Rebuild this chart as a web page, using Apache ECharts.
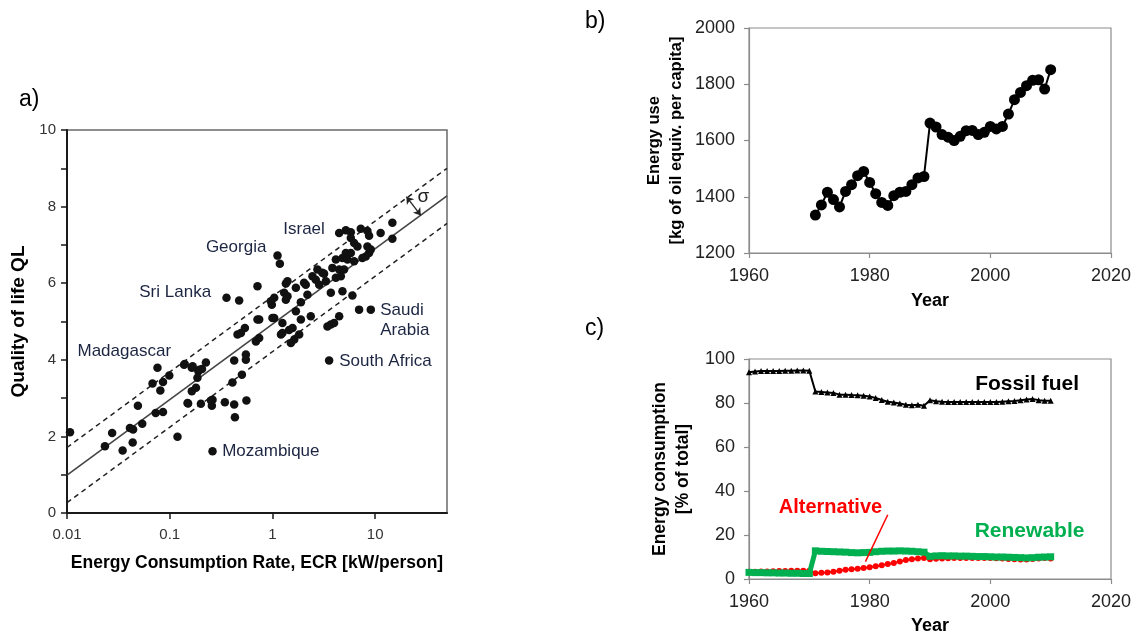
<!DOCTYPE html>
<html><head><meta charset="utf-8">
<script src="https://cdn.jsdelivr.net/npm/echarts@6/dist/echarts.min.js"></script>
<style>html,body{margin:0;padding:0;background:#fff}#c{width:1140px;height:637px}</style>
</head><body><div id="c"></div>
<script>
const FONT = '"Liberation Sans", Arial, Helvetica, sans-serif';

// ---------- Panel a: Quality of life vs energy consumption rate ----------
const ecr = [0.0107,0.0234,0.0275,0.0348,0.041,0.044,0.0436,0.054,0.049,0.073,0.086,0.068,0.076,0.086,0.081,0.099,0.119,0.14,0.164,0.19,0.206,0.225,0.164,0.18,0.151,0.201,0.261,0.257,0.344,0.424,0.431,0.558,0.261,0.408,0.424,0.504,0.551,0.551,0.457,0.493,0.539,0.69,0.715,0.357,0.474,0.186,0.194,0.167,0.138,0.149,0.252,
1.12,1.18,0.715,1.35,1.04,1.35,0.986,0.743,1.04,1.25,1.69,1.45,1.21,1.63,0.743,0.964,1.3,1.82,1.0,
4.46,5.18,5.79,7.24,8.4,8.72,11.3,14.7,14.7,5.79,6.24,6.72,5.18,5.79,8.4,8.72,9.06,8.1,4.14,4.8,5.37,6.24,7.5,3.83,4.46,4.98,2.74,3.06,2.45,2.64,4.14,4.63,2.85,3.31,2.03,1.69,2.19,3.7,4.8,6.0,1.4,1.4,6.97,9.06,4.46,3.7,3.98,2.36,1.89,1.57,1.25,3.43,3.56,1.51,3.18,2.11,1.89];
const ql = [2.11,1.74,2.09,1.63,2.22,2.18,1.84,2.33,2.80,2.61,2.64,3.38,3.79,3.42,3.20,3.59,1.99,3.89,3.79,3.70,3.76,3.93,3.18,3.27,2.86,2.85,2.96,2.80,2.89,2.83,2.50,2.94,1.61,3.41,3.98,3.61,4.14,4.0,4.66,4.70,4.83,4.48,5.05,5.62,5.55,3.53,3.74,3.83,3.87,2.87,2.94,
6.72,6.51,5.92,5.99,5.62,5.57,5.44,5.05,5.09,4.96,5.27,4.78,4.66,4.53,4.57,5.53,5.75,4.66,5.09,
7.31,7.38,7.33,7.42,7.36,7.24,7.31,7.58,7.16,7.18,7.05,6.96,6.79,6.79,6.96,6.79,6.88,6.70,6.62,6.66,6.62,6.57,6.66,6.40,6.36,6.36,6.36,6.27,6.18,6.09,6.14,6.18,5.96,6.05,6.01,5.88,5.70,5.75,5.79,5.68,5.66,6.05,5.31,5.31,5.14,4.92,4.96,5.14,5.05,4.83,4.70,4.87,3.98,4.44,6.25,5.96,5.50];
const fitECR = [0.01, 50];
const fitQL = [0.99, 8.28];
const upperQL = [1.71, 9.00];
const lowerQL = [0.27, 7.56];
const sigmaECR = [20.1, 27.8];
const sigmaQL = [8.26, 7.77];
const sigmaText = ['σ'];
const sigmaTextPos = [29.5, 8.25];
const countryNames = ['Israel','Georgia','Sri Lanka','Madagascar','Saudi\nArabia','South Africa','Mozambique'];
const countryLabelECR = [2.03, 0.443, 0.113, 0.0361, 11.2, 4.46, 0.324];
const countryLabelQL = [7.40, 6.93, 5.76, 4.22, 5.02, 3.95, 1.60];
const countryLabelAlign = ['center','center','center','center','left','left','left'];
const xTickValuesA = [0.01, 0.1, 1, 10];
const xTickLabelsA = ['0.01', '0.1', '1', '10'];

// ---------- Panel b: Energy use per capita ----------
const yearsB = [1971,1972,1973,1974,1975,1976,1977,1978,1979,1980,1981,1982,1983,1984,1985,1986,1987,1988,1989,1990,1991,1992,1993,1994,1995,1996,1997,1998,1999,2000,2001,2002,2003,2004,2005,2006,2007,2008,2009,2010];
const energyUse = [1335,1371,1416,1390,1364,1419,1443,1475,1490,1451,1411,1380,1369,1404,1416,1419,1443,1467,1472,1662,1648,1621,1612,1600,1615,1635,1636,1621,1629,1650,1641,1650,1694,1745,1771,1795,1814,1816,1783,1852];

// ---------- Panel c: Energy consumption shares ----------
const yearsC = [1960,1961,1962,1963,1964,1965,1966,1967,1968,1969,1970,1971,1972,1973,1974,1975,1976,1977,1978,1979,1980,1981,1982,1983,1984,1985,1986,1987,1988,1989,1990,1991,1992,1993,1994,1995,1996,1997,1998,1999,2000,2001,2002,2003,2004,2005,2006,2007,2008,2009,2010];
const fossil = [94.0,94.3,94.5,94.6,94.6,94.6,94.7,94.7,94.8,94.8,94.7,85.2,85.0,84.8,84.6,83.8,83.8,83.6,83.5,83.3,83.0,82.3,81.4,80.6,80.2,79.8,79.2,79.0,79.2,78.8,81.2,80.8,80.6,80.5,80.5,80.5,80.4,80.5,80.5,80.5,80.5,80.4,80.6,80.8,80.9,81.2,81.6,81.8,81.3,81.0,81.0];
const alternative = [3.3,3.3,3.4,3.4,3.5,3.6,3.6,3.7,3.7,3.8,3.8,2.6,2.8,3.0,3.3,3.8,4.2,4.4,4.7,5.0,5.3,5.8,6.3,6.8,7.3,8.0,8.6,9.0,9.3,9.6,9.0,9.2,9.3,9.4,9.5,9.5,9.6,9.6,9.6,9.6,9.5,9.4,9.3,9.1,9.0,8.9,8.9,9.1,9.3,9.5,9.3];
const renewable = [3.0,2.9,2.9,2.8,2.8,2.7,2.7,2.6,2.6,2.5,2.5,12.8,12.6,12.5,12.4,12.3,12.2,12.0,11.9,12.0,12.1,12.4,12.6,12.7,12.7,12.8,12.7,12.6,12.4,12.2,10.3,10.5,10.6,10.5,10.5,10.4,10.4,10.3,10.2,10.2,10.1,10.0,10.0,9.9,9.8,9.7,9.6,9.7,9.9,10.0,10.1];
const seriesLabelsC = ['Fossil fuel','Alternative','Renewable'];
const seriesLabelYearC = [2006.1, 1973.5, 2006.5];
const seriesLabelValC = [88.7, 32.4, 21.5];
const seriesLabelColorC = ['#000000','#ff0000','#00b050'];
const seriesLabelSizeC = [21, 20, 21];
const pointerYears = [1979.3, 1983.0];
const pointerVals = [7.9, 29.2];

const zip = (a, b) => a.map((v, i) => [v, b[i]]);

const chart = echarts.init(document.getElementById('c'), null, {renderer: 'canvas'});

const nameStyle = {fontFamily: FONT, fontWeight: 'bold', fontSize: 17, color: '#000'};
const greyAxis = {
  axisLine: {show: true, lineStyle: {color: '#8c8c8c', width: 1.2}},
  axisTick: {show: true, inside: false, length: 5, lineStyle: {color: '#8c8c8c', width: 1.2}},
  axisLabel: {fontFamily: FONT, fontSize: 18, color: '#222', margin: 14, formatter: v => String(v)},
  splitLine: {show: false}
};

const option = {
  backgroundColor: '#ffffff',
  animation: false,
  textStyle: {fontFamily: FONT},
  title: [
    {text: 'a)', left: 14, top: 83, textStyle: {fontFamily: FONT, fontSize: 23, fontWeight: 'normal', color: '#000'}},
    {text: 'b)', left: 580, top: 5, textStyle: {fontFamily: FONT, fontSize: 23, fontWeight: 'normal', color: '#000'}},
    {text: 'c)', left: 580, top: 312, textStyle: {fontFamily: FONT, fontSize: 23, fontWeight: 'normal', color: '#000'}}
  ],
  grid: [
    {left: 67, top: 130, width: 380, height: 383, show: true, borderColor: '#6a6a6a', borderWidth: 1.5, backgroundColor: 'transparent', outerBoundsMode: 'none', containLabel: false},
    {left: 749, top: 28, width: 362, height: 225, show: true, borderColor: '#8c8c8c', borderWidth: 1.2, backgroundColor: 'transparent', outerBoundsMode: 'none', containLabel: false},
    {left: 749, top: 359, width: 362, height: 220, show: true, borderColor: '#8c8c8c', borderWidth: 1.2, backgroundColor: 'transparent', outerBoundsMode: 'none', containLabel: false}
  ],
  xAxis: [
    {
      gridIndex: 0, type: 'log', logBase: 10, min: 0.01, max: 50,
      axisLine: {show: true, lineStyle: {color: '#1a1a1a', width: 2}},
      axisTick: {show: true, length: 6, customValues: xTickValuesA, lineStyle: {color: '#1a1a1a', width: 1.5}},
      axisLabel: {
        customValues: xTickValuesA, fontFamily: FONT, fontSize: 15, color: '#333', margin: 14,
        formatter: v => {
          for (let i = 0; i < xTickValuesA.length; i++) {
            if (Math.abs(Math.log10(v) - Math.log10(xTickValuesA[i])) < 1e-6) return xTickLabelsA[i];
          }
          return '';
        }
      },
      splitLine: {show: false}, minorTick: {show: false},
      name: 'Energy Consumption Rate, ECR [kW/person]', nameLocation: 'middle', nameGap: 41,
      nameTextStyle: {fontFamily: FONT, fontWeight: 'bold', fontSize: 17.5, color: '#000'}
    },
    Object.assign({}, greyAxis, {
      gridIndex: 1, type: 'value', min: 1960, max: 2020, interval: 20,
      name: 'Year', nameLocation: 'middle', nameGap: 39, nameTextStyle: Object.assign({}, nameStyle, {fontSize: 18})
    }),
    Object.assign({}, greyAxis, {
      gridIndex: 2, type: 'value', min: 1960, max: 2020, interval: 20,
      name: 'Year', nameLocation: 'middle', nameGap: 38, nameTextStyle: Object.assign({}, nameStyle, {fontSize: 18})
    })
  ],
  yAxis: [
    {
      gridIndex: 0, type: 'value', min: 0, max: 10, interval: 1,
      axisLine: {show: true, lineStyle: {color: '#1a1a1a', width: 2}},
      axisTick: {show: true, length: 6, lineStyle: {color: '#1a1a1a', width: 1.5}},
      axisLabel: {fontFamily: FONT, fontSize: 15, color: '#333', margin: 11, formatter: v => (v % 2 === 0 ? String(v) : '')},
      splitLine: {show: false},
      name: 'Quality of life QL', nameLocation: 'middle', nameRotate: 90, nameGap: 39,
      nameTextStyle: {fontFamily: FONT, fontWeight: 'bold', fontSize: 19, color: '#000'}
    },
    Object.assign({}, greyAxis, {
      gridIndex: 1, type: 'value', min: 1200, max: 2000, interval: 200,
      name: 'Energy use\n[kg of oil equiv. per capita]', nameLocation: 'middle', nameRotate: 90, nameGap: 62,
      nameTextStyle: Object.assign({}, nameStyle, {fontSize: 16.5, lineHeight: 22})
    }),
    Object.assign({}, greyAxis, {
      gridIndex: 2, type: 'value', min: 0, max: 100, interval: 20,
      name: 'Energy consumption\n[% of total]', nameLocation: 'middle', nameRotate: 90, nameGap: 54,
      nameTextStyle: Object.assign({}, nameStyle, {fontSize: 17.5, lineHeight: 23})
    })
  ],
  series: [
    // ---- panel a
    {type: 'line', xAxisIndex: 0, yAxisIndex: 0, data: zip(fitECR, upperQL), showSymbol: false, symbol: 'none',
     lineStyle: {color: '#222', width: 1.5, type: [5, 4]}, z: 2},
    {type: 'line', xAxisIndex: 0, yAxisIndex: 0, data: zip(fitECR, lowerQL), showSymbol: false, symbol: 'none',
     lineStyle: {color: '#222', width: 1.5, type: [5, 4]}, z: 2},
    {type: 'line', xAxisIndex: 0, yAxisIndex: 0, data: zip(fitECR, fitQL), showSymbol: false, symbol: 'none',
     lineStyle: {color: '#444', width: 1.6}, z: 2},
    {type: 'scatter', xAxisIndex: 0, yAxisIndex: 0, data: zip(ecr, ql), symbol: 'circle', symbolSize: 8.5,
     itemStyle: {color: '#111', opacity: 1}, z: 3},
    {type: 'lines', coordinateSystem: 'cartesian2d', xAxisIndex: 0, yAxisIndex: 0,
     data: [{coords: zip(sigmaECR, sigmaQL)}], symbol: ['arrow', 'arrow'], symbolSize: 7,
     lineStyle: {color: '#222', width: 1.3, opacity: 1}, z: 4},
    {type: 'scatter', xAxisIndex: 0, yAxisIndex: 0, symbolSize: 0, itemStyle: {opacity: 1},
     data: [{value: sigmaTextPos, name: sigmaText[0]}],
     label: {show: true, position: 'inside', formatter: p => p.name, fontFamily: FONT, fontSize: 19, color: '#222', opacity: 1}, z: 5},
    {type: 'scatter', xAxisIndex: 0, yAxisIndex: 0, symbolSize: 0, itemStyle: {opacity: 1},
     data: countryNames.map((n, i) => ({
       value: [countryLabelECR[i], countryLabelQL[i]], name: n,
       label: {align: countryLabelAlign[i]}
     })),
     label: {show: true, position: 'inside', formatter: p => p.name, fontFamily: FONT, fontSize: 17, color: '#1c2541', opacity: 1, lineHeight: 20}, z: 5},
    // ---- panel b
    {type: 'line', xAxisIndex: 1, yAxisIndex: 1, data: zip(yearsB, energyUse), symbol: 'circle', symbolSize: 11,
     itemStyle: {color: '#000'}, lineStyle: {color: '#000', width: 2}, z: 3},
    // ---- panel c
    {type: 'line', xAxisIndex: 2, yAxisIndex: 2, data: zip(yearsC, fossil), symbol: 'triangle', symbolSize: 6,
     itemStyle: {color: '#000'}, lineStyle: {color: '#000', width: 2}, z: 3},
    {type: 'line', xAxisIndex: 2, yAxisIndex: 2, data: zip(yearsC, alternative), symbol: 'circle', symbolSize: 6,
     itemStyle: {color: '#ff0000'}, lineStyle: {color: '#ff0000', width: 2}, z: 3},
    {type: 'line', xAxisIndex: 2, yAxisIndex: 2, data: zip(yearsC, renewable), symbol: 'rect', symbolSize: 7,
     itemStyle: {color: '#00b050'}, lineStyle: {color: '#00b050', width: 5}, z: 4},
    {type: 'lines', coordinateSystem: 'cartesian2d', xAxisIndex: 2, yAxisIndex: 2,
     data: [{coords: zip(pointerYears, pointerVals)}], symbol: 'none',
     lineStyle: {color: '#ff0000', width: 1.5, opacity: 1}, z: 5},
    {type: 'scatter', xAxisIndex: 2, yAxisIndex: 2, symbolSize: 0, itemStyle: {opacity: 1},
     data: seriesLabelsC.map((n, i) => ({
       value: [seriesLabelYearC[i], seriesLabelValC[i]], name: n,
       label: {color: seriesLabelColorC[i], fontSize: seriesLabelSizeC[i]}
     })),
     label: {show: true, position: 'inside', formatter: p => p.name, fontFamily: FONT, fontWeight: 'bold', opacity: 1}, z: 6}
  ]
};
chart.setOption(option);
</script>
</body></html>
